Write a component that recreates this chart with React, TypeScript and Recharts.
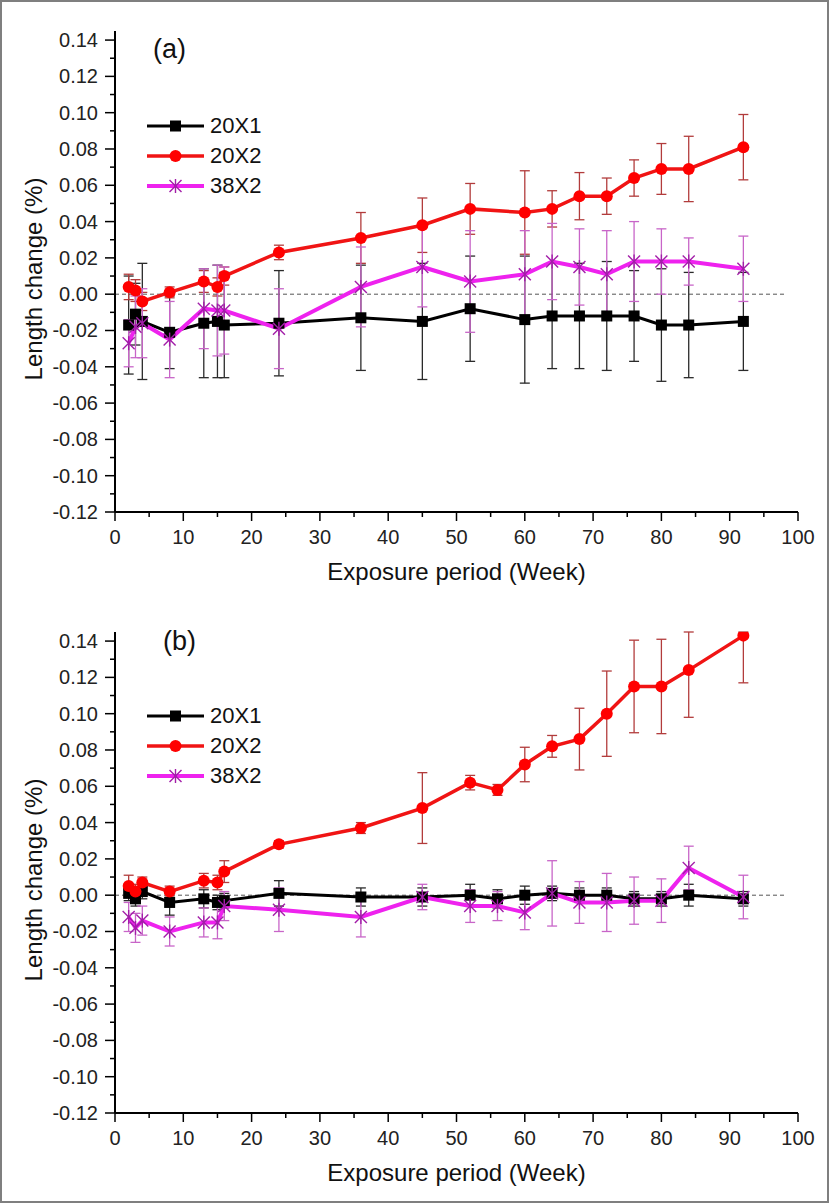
import React from 'react';
import { LineChart, Line, XAxis, YAxis, ErrorBar, ReferenceLine, Label } from 'recharts';

const FONT = '"Liberation Sans", Arial, sans-serif';

// panel (a)
const weeksA = [2, 3, 4, 8, 13, 15, 16, 24, 36, 45, 52, 60, 64, 68, 72, 76, 80, 84, 92];
const a20x1 = [-0.017, -0.011, -0.015, -0.021, -0.016, -0.015, -0.017, -0.016, -0.013, -0.015, -0.008, -0.014, -0.012, -0.012, -0.012, -0.012, -0.017, -0.017, -0.015];
const a20x1Err = [0.027, 0.017, 0.032, 0.02, 0.03, 0.031, 0.029, 0.029, 0.029, 0.032, 0.029, 0.035, 0.029, 0.029, 0.03, 0.025, 0.031, 0.029, 0.027];
const a20x2 = [0.004, 0.002, -0.004, 0.001, 0.007, 0.004, 0.01, 0.023, 0.031, 0.038, 0.047, 0.045, 0.047, 0.054, 0.054, 0.064, 0.069, 0.069, 0.081];
const a20x2Err = [0.007, 0.006, 0.005, 0.003, 0.006, 0.005, 0.005, 0.004, 0.014, 0.015, 0.014, 0.023, 0.01, 0.013, 0.01, 0.01, 0.014, 0.018, 0.018];
const a38x2 = [-0.027, -0.018, -0.016, -0.025, -0.008, -0.009, -0.009, -0.019, 0.004, 0.015, 0.007, 0.011, 0.018, 0.015, 0.011, 0.018, 0.018, 0.018, 0.014];
const a38x2Err = [0.013, 0.017, 0.019, 0.021, 0.022, 0.025, 0.024, 0.022, 0.022, 0.022, 0.028, 0.024, 0.021, 0.021, 0.024, 0.022, 0.018, 0.013, 0.018];

// panel (b)
const weeksB = [2, 3, 4, 8, 13, 15, 16, 24, 36, 45, 52, 56, 60, 64, 68, 72, 76, 80, 84, 92];
const b20x1 = [0.001, -0.002, 0.002, -0.004, -0.002, -0.004, -0.003, 0.001, -0.001, -0.001, 0, -0.002, 0, 0.001, 0, 0, -0.002, -0.002, 0, -0.002];
const b20x1Err = [0.004, 0.004, 0.004, 0.007, 0.005, 0.004, 0.004, 0.007, 0.005, 0.005, 0.006, 0.005, 0.005, 0.004, 0.004, 0.004, 0.004, 0.004, 0.006, 0.004];
const b20x2 = [0.005, 0.002, 0.007, 0.002, 0.008, 0.007, 0.013, 0.028, 0.037, 0.048, 0.062, 0.058, 0.072, 0.082, 0.086, 0.1, 0.115, 0.115, 0.124, 0.143];
const b20x2Err = [0.006, 0.004, 0.003, 0.003, 0.004, 0.004, 0.006, 0.002, 0.003, 0.0195, 0.004, 0.003, 0.0095, 0.006, 0.017, 0.0235, 0.0255, 0.026, 0.026, 0.026];
// upper bars of the last two points are cut off at the top of the axis
const b20x2ErrUp = [0.006, 0.004, 0.003, 0.003, 0.004, 0.004, 0.006, 0.002, 0.003, 0.0195, 0.004, 0.003, 0.0095, 0.006, 0.017, 0.0235, 0.0255, 0.026, 0.021, 0.002];
const b38x2 = [-0.012, -0.018, -0.014, -0.02, -0.015, -0.015, -0.006, -0.008, -0.012, -0.001, -0.006, -0.006, -0.0095, 0.001, -0.004, -0.004, -0.003, -0.003, 0.015, -0.001];
const b38x2Err = [0.008, 0.008, 0.008, 0.008, 0.008, 0.009, 0.008, 0.012, 0.011, 0.007, 0.009, 0.008, 0.0095, 0.018, 0.0115, 0.016, 0.013, 0.012, 0.012, 0.012];

const seriesNames = ['20X1', '20X2', '38X2'];

const yTicks = [-0.12, -0.1, -0.08, -0.06, -0.04, -0.02, 0, 0.02, 0.04, 0.06, 0.08, 0.1, 0.12, 0.14];
const yMinorTicks = [-0.11, -0.09, -0.07, -0.05, -0.03, -0.01, 0.01, 0.03, 0.05, 0.07, 0.09, 0.11, 0.13];
const xTicks = [0, 10, 20, 30, 40, 50, 60, 70, 80, 90, 100];
const xMinorTicks = [5, 15, 25, 35, 45, 55, 65, 75, 85, 95];

const yAll = [...yTicks, ...yMinorTicks].sort((a, b) => a - b);
const xAll = [...xTicks, ...xMinorTicks].sort((a, b) => a - b);

const rowsA = weeksA.map((w, i) => ({
  week: w, s1: a20x1[i], e1: a20x1Err[i], s2: a20x2[i], e2: a20x2Err[i], s3: a38x2[i], e3: a38x2Err[i],
}));
const rowsB = weeksB.map((w, i) => ({
  week: w,
  s1: b20x1[i], e1: b20x1Err[i],
  s2: b20x2[i], e2: [b20x2Err[i], b20x2ErrUp[i]],
  s3: b38x2[i], e3: b38x2Err[i],
}));

const drawSquare = (cx: number, cy: number, key?: any) => (
  <rect key={key} x={cx - 5.5} y={cy - 5.5} width={11} height={11} fill="#000" />
);
const drawCircle = (cx: number, cy: number, key?: any) => (
  <circle key={key} cx={cx} cy={cy} r={6} fill="#ff0000" />
);
const drawStar = (cx: number, cy: number, key?: any) => (
  <g key={key} stroke="#a21ea8" strokeWidth={1.4}>
    <line x1={cx - 6} y1={cy - 6} x2={cx + 6} y2={cy + 6} />
    <line x1={cx + 6} y1={cy - 6} x2={cx - 6} y2={cy + 6} />
    <line x1={cx} y1={cy - 7} x2={cx} y2={cy + 7} />
  </g>
);

const dotOf = (fn: any) => (p: any) => {
  if (p.cx == null || p.cy == null) return <g key={`n${p.index}`} />;
  return fn(p.cx, p.cy, `d${p.index}`);
};

const SERIES = [
  { key: 's1', err: 'e1', color: '#000', errColor: '#2a2a2a', width: 3, marker: drawSquare },
  { key: 's2', err: 'e2', color: '#f01414', errColor: '#b23c3c', width: 3.5, marker: drawCircle },
  { key: 's3', err: 'e3', color: '#ee22ee', errColor: '#c865c8', width: 4, marker: drawStar },
];

const renderYTick = (props: any) => {
  const { x, y, payload } = props;
  const v = payload.value;
  const major = Math.abs(Math.round(v * 100)) % 2 === 0;
  const ax = x + 17;
  return (
    <g>
      <line x1={ax} x2={ax - (major ? 10 : 5)} y1={y} y2={y} stroke="#000" strokeWidth={1.5} />
      {major && (
        <text x={x} y={y} dy={7} textAnchor="end" fontSize={20} fill="#222" fontFamily={FONT}>
          {v.toFixed(2)}
        </text>
      )}
    </g>
  );
};

const renderXTick = (props: any) => {
  const { x, y, payload } = props;
  const v = payload.value;
  const major = v % 10 === 0;
  const ay = y - 15;
  return (
    <g>
      <line x1={x} x2={x} y1={ay} y2={ay + (major ? 9 : 5)} stroke="#000" strokeWidth={1.5} />
      {major && (
        <text x={x} y={ay} dy={31.5} textAnchor="middle" fontSize={20} fill="#222" fontFamily={FONT}>
          {v}
        </text>
      )}
    </g>
  );
};

const renderYTitle = () => (
  <text
    x={33}
    y={279}
    transform="rotate(-90 33 279)"
    textAnchor="middle"
    dominantBaseline="central"
    fontSize={24}
    fill="#111"
    fontFamily={FONT}
  >
    Length change (%)
  </text>
);

function Panel({ rows, tag, tagLeft, tagTop, legendTop }: any) {
  return (
    <div style={{ position: 'relative', width: 829, height: 600 }}>
      <LineChart width={829} height={600} data={rows} margin={{ top: 31, right: 31, left: 0, bottom: 58 }}>
        <XAxis
          dataKey="week"
          type="number"
          domain={[0, 100]}
          ticks={xAll}
          interval={0}
          tick={renderXTick}
          tickLine={false}
          tickSize={9}
          tickMargin={6}
          height={30}
          axisLine={{ stroke: '#000', strokeWidth: 2 }}
        >
          <Label
            value="Exposure period (Week)"
            position="bottom"
            offset={21}
            style={{ fontSize: 24, fill: '#111', fontFamily: FONT }}
          />
        </XAxis>
        <YAxis
          type="number"
          domain={[-0.12, 0.145]}
          allowDataOverflow
          ticks={yAll}
          interval={0}
          tick={renderYTick}
          tickLine={false}
          tickSize={10}
          tickMargin={7}
          width={115}
          axisLine={{ stroke: '#000', strokeWidth: 2 }}
        >
          <Label content={renderYTitle} />
        </YAxis>
        <ReferenceLine
          segment={[{ x: 0, y: 0 }, { x: 98, y: 0 }]}
          stroke="#555"
          strokeDasharray="4 3"
          strokeWidth={1}
        />
        {SERIES.map((s) => (
          <Line
            key={s.key}
            type="linear"
            dataKey={s.key}
            stroke={s.color}
            strokeWidth={s.width}
            dot={dotOf(s.marker)}
            activeDot={false}
            isAnimationActive={false}
          >
            <ErrorBar dataKey={s.err} direction="y" width={5} stroke={s.errColor} strokeWidth={1.3} isAnimationActive={false} />
          </Line>
        ))}
      </LineChart>
      <div style={{ position: 'absolute', left: tagLeft, top: tagTop, fontSize: 27, lineHeight: '30px', fontFamily: FONT, color: '#111' }}>
        {tag}
      </div>
      <div style={{ position: 'absolute', left: 147, top: legendTop, fontFamily: FONT }}>
        {SERIES.map((s, i) => (
          <div key={s.key} style={{ display: 'flex', alignItems: 'center', height: 30 }}>
            <svg width={57} height={20}>
              <line x1={0} x2={57} y1={10} y2={10} stroke={s.color} strokeWidth={s.width} />
              {s.marker(28.5, 10)}
            </svg>
            <span style={{ marginLeft: 6, fontSize: 22, color: '#111' }}>{seriesNames[i]}</span>
          </div>
        ))}
      </div>
    </div>
  );
}

export default function App() {
  return (
    <div
      style={{
        position: 'absolute', left: 0, top: 0, width: 829, height: 1203,
        border: '2px solid #7f7f7f', boxSizing: 'border-box', background: '#fff',
      }}
    >
      <div style={{ position: 'absolute', left: -2, top: -2 }}>
        <Panel rows={rowsA} tag="(a)" tagLeft={153} tagTop={34} legendTop={111} />
      </div>
      <div style={{ position: 'absolute', left: -2, top: 599 }}>
        <Panel rows={rowsB} tag="(b)" tagLeft={163} tagTop={25} legendTop={100} />
      </div>
    </div>
  );
}
